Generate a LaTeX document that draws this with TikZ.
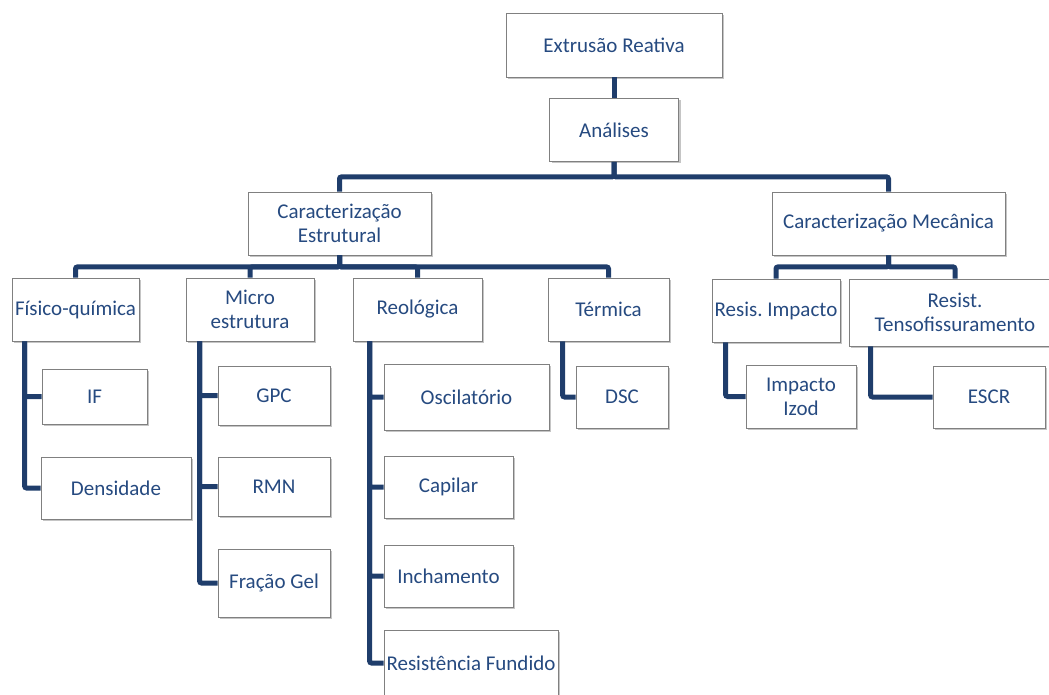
\documentclass[tikz,border=0pt]{standalone}
\usepackage{fontspec}
\setmainfont{Carlito}
\usetikzlibrary{shadows}
\definecolor{linkblue}{HTML}{1F3D6B}
\definecolor{textblue}{HTML}{264A80}
\frenchspacing

\begin{document}
\begin{tikzpicture}[x=1pt,y=-1pt,
  box/.style={draw=black!50,line width=0.8pt,fill=white,text=textblue,align=center,inner sep=1pt,
    font=\fontsize{21}{24}\selectfont,
    drop shadow={shadow xshift=2pt,shadow yshift=-2pt,fill=black!45,opacity=0.5}},
  link/.style={draw=linkblue,line width=5pt,rounded corners=2pt}]
\useasboundingbox (0,0) rectangle (1049,695);
% top levels
\node[box,minimum width=216pt,minimum height=64pt] (ext) at (614,45) {Extrusão Reativa};
\node[box,minimum width=129pt,minimum height=63pt] (ana) at (614,130) {Análises};
\node[box,minimum width=183pt,minimum height=63pt] (est) at (339.5,223.5) {Caracterização\\Estrutural};
\node[box,minimum width=233pt,minimum height=63pt] (mec) at (888.5,223.5) {Caracterização Mecânica};
% groups
\node[box,minimum width=127pt,minimum height=63pt] (fq) at (75.5,309.5) {Físico-química};
\node[box,minimum width=128pt,minimum height=63pt] (micro) at (250,309.5) {Micro\\estrutura};
\node[box,minimum width=129pt,minimum height=63pt] (reo) at (417.5,309.5) {Reológica};
\node[box,minimum width=121pt,minimum height=63pt] (term) at (608.5,309.5) {Térmica};
\node[box,minimum width=128pt,minimum height=63pt] (imp) at (776,310.5) {Resis. Impacto};
\node[box,minimum width=212pt,minimum height=67pt] (tenso) at (955,312.5) {Resist.\\Tensofissuramento};
% tests
\node[box,minimum width=105pt,minimum height=55pt] (indfl) at (94.5,396.5) {IF};
\node[box,minimum width=150pt,minimum height=62pt] (dens) at (116,488) {Densidade};
\node[box,minimum width=112pt,minimum height=59pt] (gpc) at (274,395.5) {GPC};
\node[box,minimum width=112pt,minimum height=59pt] (rmn) at (274,486.5) {RMN};
\node[box,minimum width=112pt,minimum height=68pt] (gel) at (274,583) {Fração Gel};
\node[box,minimum width=165pt,minimum height=66pt] (osc) at (466.5,397) {Oscilatório};
\node[box,minimum width=129pt,minimum height=62pt] (cap) at (448.5,487) {Capilar};
\node[box,minimum width=129pt,minimum height=62pt] (inch) at (448.5,576) {Inchamento};
\node[box,minimum width=174pt,minimum height=66pt,inner sep=0pt] (resf) at (471,663) {Resistência Fundido};
\node[box,minimum width=92pt,minimum height=62pt] (dsc) at (622,397) {DSC};
\node[box,minimum width=110pt,minimum height=63pt] (izod) at (801,396.5) {Impacto\\Izod};
\node[box,minimum width=112pt,minimum height=62pt] (escr) at (989,397) {ESCR};
% connectors
\draw[link] (ext.south) -- (ana.north);
\draw[link] (ana.south) -- ++(0,15) -| (est.north);
\draw[link] (ana.south) -- ++(0,15) -| (mec.north);
\foreach \grp in {fq,micro,reo,term}
  \draw[link] (est.south) -- ++(0,11.5) -| (\grp.north);
\foreach \grp in {imp,tenso}
  \draw[link] (mec.south) -- ++(0,11.5) -| (\grp.north);
\foreach \leaf in {indfl,dens}
  \draw[link] ([xshift=13pt]fq.south west) |- (\leaf.west);
\foreach \leaf in {gpc,rmn,gel}
  \draw[link] ([xshift=14pt]micro.south west) |- (\leaf.west);
\foreach \leaf in {osc,cap,inch,resf}
  \draw[link] ([xshift=17pt]reo.south west) |- (\leaf.west);
\draw[link] ([xshift=15pt]term.south west) |- (dsc.west);
\draw[link] ([xshift=14pt]imp.south west) |- (izod.west);
\draw[link] ([xshift=22pt]tenso.south west) |- (escr.west);
\end{tikzpicture}
\end{document}
